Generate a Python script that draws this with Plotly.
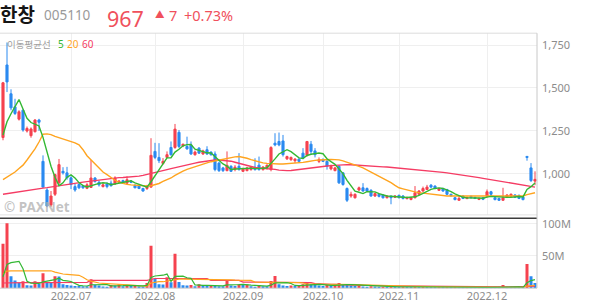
import pandas as pd
import plotly.graph_objects as go

# ---------------- data ----------------
holidays = ["2022-08-15", "2022-09-09", "2022-09-12", "2022-10-03", "2022-10-10"]
dates = [d.strftime("%Y-%m-%d") for d in
         pd.bdate_range("2022-06-08", "2022-12-19", freq="C", holidays=holidays)]

opens = [1211,1634,1466,1390,1318,1370,1249,1222,1245,1313,
         1072,905,818,880,947,1014,1005,976,925,937,
         930,915,920,975,950,925,940,945,940,950,
         960,945,957,931,928,914,914,922,1130,1095,
         1060,1095,1153,1153,1241,1162,1159,1168,1111,1149,
         1115,1140,1126,1115,1062,1034,1018,1043,1024,1043,
         1014,1018,1024,1038,1050,1024,1034,1024,1178,1188,
         1191,1087,1082,1076,1085,1120,1107,1172,1133,1072,
         1082,1072,1028,1018,1043,1005,914,870,860,905,
         918,914,903,870,880,876,860,868,862,874,
         870,855,850,860,880,899,908,933,928,903,
         914,908,880,860,845,870,855,868,862,850,
         860,870,895,860,856,845,862,868,876,874,
         864,1101,1034,957]
highs = [1535,1765,1492,1437,1370,1375,1275,1270,1318,1320,
         1107,915,899,1000,1086,1038,1040,985,940,945,
         935,945,1080,980,960,945,950,960,985,962,
         965,985,962,940,935,918,935,1207,1180,1178,
         1091,1130,1188,1290,1255,1175,1216,1188,1135,1155,
         1140,1160,1130,1130,1070,1040,1130,1050,1050,1120,
         1035,1040,1045,1090,1100,1045,1055,1160,1236,1240,
         1226,1105,1100,1091,1090,1149,1190,1191,1149,1095,
         1090,1080,1053,1040,1050,1010,920,895,885,925,
         945,920,910,890,885,880,875,875,875,878,
         875,866,864,928,905,925,935,940,932,918,
         918,912,884,864,870,874,866,872,866,860,
         864,908,900,864,860,918,880,885,880,878,
         868,1103,1062,1014]
lows = [1195,1476,1370,1342,1310,1245,1240,1210,1240,1250,
        918,805,807,870,940,995,965,910,895,910,
        912,910,918,948,925,920,915,925,935,945,
        940,940,945,915,910,895,905,918,1085,1062,
        1053,1091,1105,1145,1149,1155,1140,1110,1105,1115,
        1110,1110,1105,1014,1010,1010,1014,1010,1014,1018,
        1010,1014,1018,1018,1018,1018,1024,1014,1160,1160,
        1100,1080,1075,1062,1062,1085,1100,1111,1095,1062,
        1068,1024,1020,1014,940,930,835,860,855,900,
        895,895,866,865,862,855,856,822,858,856,
        850,850,845,856,876,895,905,915,910,900,
        895,876,866,845,843,852,852,856,852,846,
        846,862,870,845,841,843,858,864,858,852,
        845,1076,952,933]
closes = [1530,1535,1384,1351,1361,1255,1264,1261,1313,1300,
          922,812,870,995,1053,1005,976,937,905,918,
          918,935,975,955,935,935,925,930,975,957,
          945,965,950,918,914,899,928,1107,1095,1076,
          1072,1111,1111,1260,1159,1172,1145,1115,1126,1120,
          1133,1115,1111,1024,1018,1018,1049,1014,1038,1024,
          1028,1034,1038,1024,1024,1038,1049,1153,1168,1168,
          1111,1100,1095,1085,1072,1091,1188,1130,1111,1082,
          1072,1043,1043,1034,947,937,845,880,880,918,
          899,899,870,884,868,860,870,860,870,860,
          856,862,860,889,899,914,922,922,914,914,
          899,880,872,849,856,856,862,860,856,856,
          851,895,880,849,845,860,876,880,862,856,
          849,1095,960,967]
prior_closes = [1150, 1150, 1150, 1150]   # closes before the window (for MA5)

ma20 = [966,980,995,1010,1030,1050,1080,1110,1145,1185,
        1230,1232,1228,1218,1210,1205,1198,1190,1180,1168,
        1140,1105,1080,1055,1030,1010,995,978,962,950,
        943,938,935,933,931,929,928,930,936,943,
        955,965,975,990,1005,1015,1025,1033,1043,1050,
        1057,1063,1070,1075,1080,1085,1090,1094,1098,1100,
        1097,1090,1082,1075,1068,1063,1060,1058,1057,1057,
        1057,1058,1060,1062,1064,1066,1070,1075,1078,1080,
        1082,1083,1083,1082,1081,1075,1068,1060,1052,1043,
        1034,1022,1010,998,986,975,962,948,932,918,
        912,905,899,894,890,887,884,880,877,873,
        870,870,871,871,872,873,874,874,874,874,
        874,874,874,874,874,873,872,871,870,870,
        870,878,884,889]
ma60 = [880,884,888,892,896,900,903,906,909,913,
        916,919,923,926,930,933,937,940,944,947,
        951,954,957,961,965,968,971,973,975,977,
        978,979,980,982,986,990,995,1000,1006,1012,
        1018,1024,1030,1036,1042,1047,1052,1057,1062,1067,
        1071,1075,1078,1080,1080,1079,1077,1073,1067,1060,
        1053,1046,1040,1036,1033,1032,1031,1029,1025,1021,
        1018,1018,1019,1021,1024,1027,1030,1033,1036,1040,
        1043,1045,1047,1049,1051,1053,1053,1052,1050,1048,
        1046,1045,1043,1042,1041,1040,1039,1037,1035,1034,
        1032,1030,1028,1026,1024,1022,1020,1017,1014,1011,
        1008,1005,1002,999,996,993,989,985,981,977,
        973,969,965,961,957,953,949,945,941,937,
        933,930,926,922]

volumes_m = [69,101,18.5,12,8,10.6,4.5,4.2,10.6,6.4,
             23,9.5,9,18.5,18,6,5,4.2,3.5,3.2,
             3.0,2.8,14,5,4,2.5,2,5,4,6,
             3,4,3.5,4,3,2.5,8,66,15,6,
             5.5,17,9,53.5,9.5,4.5,4.2,4.8,3,6,
             4,3.8,4.5,3.5,3,2.8,11,4,3.5,6,
             5,5.5,3,1.5,5,3,2.8,11,19,6,
             4,3.5,4,3.5,4,6,9,6,5,4,
             3.5,5,4,5,8,6,5,4,3.5,4,
             2.5,2.2,2.8,2.4,2.0,2.2,1.8,2.6,1.6,1.5,
             1.8,1.4,1.2,3.0,2.2,2.6,2.0,1.6,1.3,1.5,
             1.2,1.8,1.3,1.6,1.2,1.0,1.1,0.9,0.8,0.9,
             0.8,2.5,1.4,1.0,0.9,5.0,1.6,1.2,1.0,0.9,
             0.8,37.6,18.5,8]
prior_volumes_m = [5, 5, 5, 5]
vol_ma20_m = [22,26.5,27,27,27,27,26.5,26.5,26.5,26.5,
              27.5,27.5,27,25,23,22,21.5,21,20.5,20,
              17,13,11,9,8,7.5,7.2,7,6.8,6.5,
              6.2,6,5.6,4.5,3.5,3,3.2,8,9.5,10,
              10,11,11.5,13.5,14,14,14,14,14,14,
              14,14,14,13.5,13.5,13.5,13.5,13,12.5,12.5,
              12,12,12,9.5,9.5,9,9,9,9.5,9.5,
              9.5,9.5,9.2,9,8.5,8,6.5,6.5,6.5,6.5,
              6,6,6,6,6.2,6.2,5.8,5.5,5.5,5.4,
              5.3,5.2,5.0,4.8,4.6,4.4,4.3,4.2,4.0,3.8,
              3.6,3.4,3.2,3.0,2.8,2.5,2.4,2.3,2.2,2.1,
              2.0,2.0,1.9,1.8,1.8,1.7,1.6,1.5,1.5,1.5,
              1.4,1.4,1.4,1.4,1.3,1.5,1.5,1.4,1.4,1.4,
              1.4,3.2,4.1,4.5]
vol_ma60_m = [8.0,8.3,8.4,8.4,8.4,8.5,8.5,8.5,8.6,8.6,
              8.7,8.7,8.7,8.8,8.9,8.9,8.9,8.9,8.9,8.9,
              8.9,9.0,12,12,12,12,12,12,12,12,
              12,12,12,12,12,12,12,13.5,15,15,
              15,15,15,15.5,15.5,15.5,15.5,15.5,15.5,15.5,
              15,15,12,12,12,12,12,12,12,12,
              9.5,9.3,9.2,9.1,9,9,9,9,9.2,9.2,
              9.2,9,9,9,9,9,9,8.5,7,6.5,
              6.3,6.2,6.1,6,6,6,5,4.5,4.3,4.2,
              4.2,4.1,4.1,4,4,3.9,3.8,3.7,3.6,3.5,
              3.4,3.3,3.2,3.1,3,2.9,2.8,2.7,2.6,2.6,
              2.5,2.5,2.4,2.4,2.3,2.3,2.2,2.2,2.1,2.1,
              2.1,2.0,2.0,2.0,2.0,2.0,2.0,2.0,2.0,2.0,
              2.0,2.6,2.9,3.0]

price_ticks = [1000, 1250, 1500, 1750]
price_tick_text = ["1,000", "1,250", "1,500", "1,750"]
vol_ticks = [50, 100]
vol_tick_text = ["50M", "100M"]

# ---------------- derived ----------------
ma5 = pd.Series(prior_closes + closes).rolling(5).mean().iloc[4:].tolist()
vol_ma5 = pd.Series(prior_volumes_m + volumes_m).rolling(5).mean().iloc[4:].tolist()

RED = "#f5424f"
BLUE = "#2b8af0"
GREEN = "#33b833"
ORANGE = "#ffa41f"
PINK = "#f53c64"
GRID = "#efefef"
TXT = "#8c8c8c"

vol_colors = [RED] + [RED if volumes_m[i] > volumes_m[i - 1] else BLUE
                      for i in range(1, len(volumes_m))]

month_ticks, month_text = [], []
for i, d in enumerate(dates):
    if i > 0 and d[:7] != dates[i - 1][:7]:
        month_ticks.append(d)
        month_text.append(d[:4] + "." + d[5:7])

W, H = 594, 304
def py(px):
    return 1 - px / H
def px_(x):
    return x / W

XR = 537 / W

fig = go.Figure()
fig.add_trace(go.Candlestick(
    x=dates, open=opens, high=highs, low=lows, close=closes,
    increasing=dict(line=dict(color=RED, width=1), fillcolor=RED),
    decreasing=dict(line=dict(color=BLUE, width=1), fillcolor=BLUE),
    whiskerwidth=0, showlegend=False, hoverinfo="skip",
    xaxis="x", yaxis="y"))
for vals, col in [(ma60, PINK), (ma20, ORANGE), (ma5, GREEN)]:
    fig.add_trace(go.Scatter(x=dates, y=vals, mode="lines",
                             line=dict(color=col, width=1.4),
                             showlegend=False, hoverinfo="skip",
                             xaxis="x", yaxis="y"))

fig.add_trace(go.Bar(x=dates, y=volumes_m, marker=dict(color=vol_colors, line=dict(width=0)),
                     showlegend=False, hoverinfo="skip", xaxis="x2", yaxis="y2"))
for vals, col in [(vol_ma60_m, PINK), (vol_ma20_m, ORANGE), (vol_ma5, GREEN)]:
    fig.add_trace(go.Scatter(x=dates, y=vals, mode="lines",
                             line=dict(color=col, width=1.2),
                             showlegend=False, hoverinfo="skip",
                             xaxis="x2", yaxis="y2"))

FONT = "Noto Sans, Noto Sans CJK KR, sans-serif"
KFONT = "Noto Sans CJK KR, Noto Sans, sans-serif"

common_x = dict(type="category", range=[-0.75, 133.5], domain=[0, XR],
                tickmode="array", tickvals=month_ticks, ticktext=month_text,
                showgrid=True, gridcolor=GRID, gridwidth=1, zeroline=False,
                showline=False, ticks="", fixedrange=True)

fig.update_layout(
    width=W, height=H, margin=dict(l=0, r=0, t=0, b=0),
    paper_bgcolor="white", plot_bgcolor="white",
    boxgap=0.25, bargap=0.25,
    font=dict(family=FONT, color=TXT, size=11),
    xaxis=dict(common_x, anchor="y", showticklabels=False,
               rangeslider=dict(visible=False)),
    xaxis2=dict(common_x, anchor="y2", matches="x", showticklabels=True,
                tickfont=dict(size=11, color=TXT, family=FONT)),
    yaxis=dict(domain=[py(214), py(30)], range=[760, 1822], side="right",
               tickmode="array", tickvals=price_ticks, ticktext=price_tick_text,
               showgrid=True, gridcolor=GRID, zeroline=False, ticks="",
               tickfont=dict(size=11, color=TXT, family=FONT),
               ticklabelstandoff=4, anchor="x", fixedrange=True),
    yaxis2=dict(domain=[py(288), py(218)], range=[0, 107.7], side="right",
                tickmode="array", tickvals=vol_ticks, ticktext=vol_tick_text,
                showgrid=True, gridcolor=GRID, zeroline=False, ticks="",
                tickfont=dict(size=11, color=TXT, family=FONT),
                ticklabelstandoff=4, anchor="x2", fixedrange=True),
)

shapes = [
    dict(type="line", xref="paper", yref="paper", x0=0, x1=XR, y0=py(30.5), y1=py(30.5),
         line=dict(color="#dcdcdc", width=1)),
    dict(type="line", xref="paper", yref="paper", x0=0, x1=XR, y0=py(214), y1=py(214),
         line=dict(color="#e2e2e2", width=1)),
    dict(type="line", xref="paper", yref="paper", x0=0, x1=XR, y0=py(217.5), y1=py(217.5),
         line=dict(color="#3c3c3c", width=1.5)),
    dict(type="line", xref="paper", yref="paper", x0=0, x1=XR, y0=py(288), y1=py(288),
         line=dict(color="#c8c8c8", width=1)),
    dict(type="line", xref="paper", yref="paper", x0=XR, x1=XR, y0=py(288), y1=py(30.5),
         line=dict(color="#c8c8c8", width=1)),
]
fig.update_layout(shapes=shapes)

def ann(text, x, y, size, color, family=FONT, anchor="middle"):
    return dict(text=text, x=px_(x), y=py(y), xref="paper", yref="paper",
                xanchor="left", yanchor=anchor, showarrow=False, borderpad=0,
                font=dict(size=size, color=color, family=family))

HRED = "#f0505c"
annotations = [
    ann("<b>한창</b>", -1, 11, 19, "#151515", KFONT),
    ann("005110", 43, 12, 13.5, "#9a9a9a"),
    ann("967", 106, 0, 21.5, HRED, anchor="top"),
    ann("▲", 154, 12, 9.5, HRED),
    ann("7", 168, 12, 14.5, HRED),
    ann("+0.73%", 183, 12, 14.5, HRED),
    ann("이동평균선", 6, 41, 9.5, "#a0a0a0", KFONT),
    ann("5", 57, 41, 10, GREEN),
    ann("20", 66, 41, 10, ORANGE),
    ann("60", 81, 41, 10, PINK),
    ann("<b>© PAXNet</b>", 3, 206.5, 13.5, "rgba(175,175,175,0.75)"),
]
fig.update_layout(annotations=annotations)

fig.write_html("out.html")
